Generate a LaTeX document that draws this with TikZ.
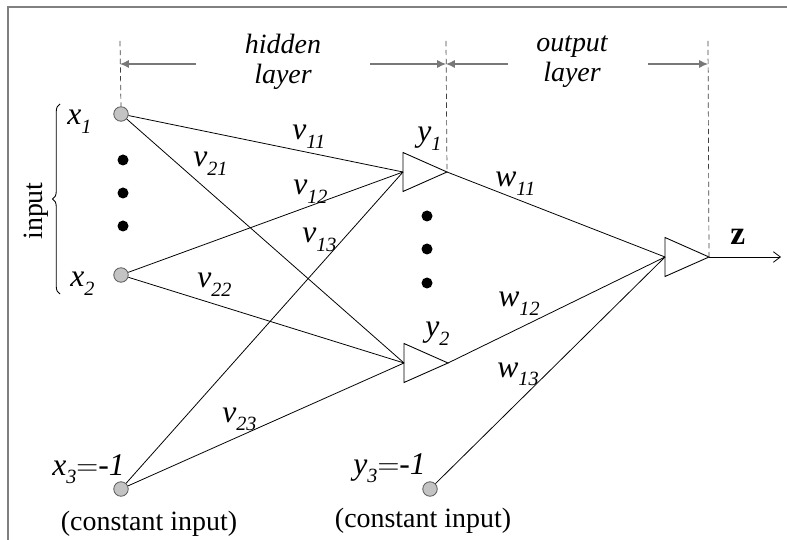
\documentclass[tikz,border=0pt]{standalone}
\usepackage{fontspec}
\setmainfont{Liberation Serif}
\usetikzlibrary{arrows.meta,shapes.geometric,decorations.pathreplacing}
\definecolor{FrameGray}{RGB}{128,128,128}
\definecolor{UnitGray}{RGB}{195,195,195}
\definecolor{RimGray}{RGB}{95,95,95}
\definecolor{DimGray}{RGB}{120,120,120}
\newcommand{\wlab}[2]{\textit{#1}\raisebox{-0.28em}{\fontsize{11.5}{12}\selectfont\textit{#2}}}
\tikzset{
  unit/.style={circle, draw=RimGray, fill=UnitGray, line width=0.5pt, minimum size=0.29cm, inner sep=0pt},
  neuron/.style={isosceles triangle, isosceles triangle stretches, draw=black, line width=0.5pt,
    minimum width=0.78cm, minimum height=0.88cm, inner sep=0pt, outer sep=0pt},
  wire/.style={draw=black, line width=0.45pt},
  guide/.style={draw=black!75, densely dashed, line width=0.4pt},
  dimarr/.style={-{Latex[length=5pt,width=4.5pt]}, draw=DimGray, line width=0.6pt},
  lbl/.style={font=\fontsize{18}{20}\selectfont, inner sep=0pt, anchor=base west},
  txt/.style={font=\fontsize{15.9}{17}\selectfont, inner sep=0pt, align=center},
}
\begin{document}
\begin{tikzpicture}[x=0.02cm, y=-0.02cm]
  \useasboundingbox (0,0) rectangle (787,540);
  \draw[FrameGray, line width=0.9pt] (787,7) -- (8,7) -- (8,540);

  % units and neurons
  \node[unit] (x1) at (121,114) {};
  \node[unit] (x2) at (121,275) {};
  \node[unit] (x3) at (121,489) {};
  \node[unit] (y3) at (430,489) {};
  \node[neuron, anchor=apex] (h1) at (447,172) {};
  \node[neuron, anchor=apex] (h2) at (448,363) {};
  \node[neuron, anchor=apex] (o) at (709,257) {};
  \coordinate (zend) at (781,257);

  \foreach \yy in {160,193,226} \fill (123,\yy) circle (5.5);
  \foreach \yy in {216,249,283} \fill (427,\yy) circle (5.5);

  % weights
  \draw[wire] (x1) -- (h1.lower side);
  \draw[wire] (x1) -- (h2.lower side);
  \draw[wire] (x2) -- (h1.lower side);
  \draw[wire] (x2) -- (h2.lower side);
  \draw[wire] (x3) -- (h1.lower side);
  \draw[wire] (x3) -- (h2.lower side);
  \draw[wire] (h1.apex) -- (o.lower side);
  \draw[wire] (h2.apex) -- (o.lower side);
  \draw[wire] (y3) -- (o.lower side);
  \draw[wire, -{Straight Barb[length=4pt,width=6pt]}] (o.apex) -- (zend);

  % layer marks
  \coordinate (g1) at (120,41);
  \coordinate (g2) at (446,41);
  \coordinate (g3) at (708,41);
  \draw[guide] (g1) -- (x1.north);
  \draw[guide] (g2) -- (h1.apex);
  \draw[guide] (g3) -- (o.apex);
  \coordinate (d1) at (196,64);
  \coordinate (d2) at (370,64);
  \coordinate (d3) at (508,64);
  \coordinate (d4) at (648,64);
  \draw[dimarr] (d1) -- (g1 |- d1);
  \draw[dimarr] (d2) -- (g2 |- d2);
  \draw[dimarr] (d3) -- (g2 |- d3);
  \draw[dimarr] (d4) -- (g3 |- d4);
  \node[txt, font=\fontsize{15.9}{17}\selectfont\itshape] (hid) at (283,62) {hidden\\layer};
  \node[txt, font=\fontsize{15.9}{17}\selectfont\itshape] (out) at (572,62) {output\\layer};

  % input brace
  \draw[line width=0.5pt, decorate, decoration={brace, amplitude=0.15cm}] (60,294) -- (60,104);
  \node[txt, rotate=90] (inp) at (36,211) {input};

  % labels
  \node[lbl] (lx1) at (67,125) {\wlab{x}{1}};
  \node[lbl] (lx2) at (70,287) {\wlab{x}{2}};
  \node[lbl] (lx3) at (52,475) {\wlab{x}{3}$=$-\textit{1}};
  \node[lbl] (ly3) at (353,474) {\wlab{y}{3}$=$-\textit{1}};
  \node[lbl] (ly1) at (417,142) {\wlab{y}{1}};
  \node[lbl] (ly2) at (425,337) {\wlab{y}{2}};
  \node[lbl] (lv11) at (292,140) {\wlab{v}{11}};
  \node[lbl] (lv21) at (193,167) {\wlab{v}{21}};
  \node[lbl] (lv12) at (293,195) {\wlab{v}{12}};
  \node[lbl] (lv13) at (302,243) {\wlab{v}{13}};
  \node[lbl] (lv22) at (197,288) {\wlab{v}{22}};
  \node[lbl] (lv23) at (222,422) {\wlab{v}{23}};
  \node[lbl] (lw11) at (495,187) {\wlab{w}{11}};
  \node[lbl] (lw12) at (498,307) {\wlab{w}{12}};
  \node[lbl] (lw13) at (497,377) {\wlab{w}{13}};
  \node[lbl, font=\fontsize{19}{21}\selectfont\bfseries] (lz) at (730,245) {z};
  \node[txt, anchor=base] (c1) at (149,530) {(constant input)};
  \node[txt, anchor=base] (c2) at (423,527) {(constant input)};
\end{tikzpicture}
\end{document}
